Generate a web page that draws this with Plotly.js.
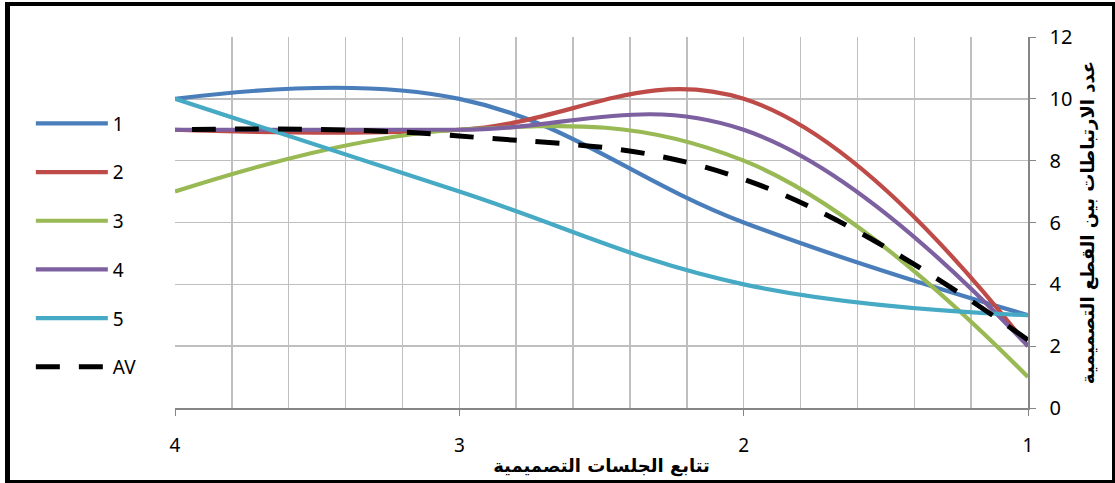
<!DOCTYPE html>
<html>
<head>
<meta charset="utf-8">
<script src="https://cdn.plot.ly/plotly-3.0.1.min.js"></script>
<style>
  html, body { margin: 0; padding: 0; background: #fff; }
  #chart { position: absolute; left: 0; top: 0; width: 1115px; height: 483px; }
  #frame { position: absolute; left: 5px; top: 2px; width: 1110px; height: 481px; box-sizing: border-box;
           border-style: solid; border-color: #000; border-width: 4px 3px 3px 5px; pointer-events: none; }
</style>
</head>
<body>
<div id="chart"></div>
<div id="frame"></div>
<script>
// Sessions (x axis, drawn reversed 4 -> 1)
const sessions = [1, 2, 3, 4];
const s1 = [3, 6, 10, 10];
const s2 = [2, 10, 9, 9];
const s3 = [1, 8, 9, 7];
const s4 = [2, 9, 9, 9];
const s5 = [3, 4, 7, 10];
const av = [2.2, 7.4, 8.8, 9];
const seriesNames = ['1', '2', '3', '4', '5', 'AV'];
const seriesColors = ['#4A7EBB', '#BE4B48', '#98B954', '#7D60A0', '#46AAC5', '#000000'];
const xTitle = 'تتابع الجلسات التصميمية';
const yTitle = 'عدد الارتباطات بين القطع التصميمية';

const allSeries = [s1, s2, s3, s4, s5, av];
const traces = allSeries.map((ys, i) => ({
  type: 'scatter',
  mode: 'lines',
  x: sessions,
  y: ys,
  name: seriesNames[i],
  legendgroup: 'g' + i,
  line: {
    color: seriesColors[i],
    width: i === 5 ? 5 : 4.2,
    shape: 'spline',
    smoothing: 1.15,
    dash: i === 5 ? '24px,19px' : 'solid'
  }
}));

const layout = {
  width: 1115,
  height: 483,
  margin: { l: 175, r: 87, t: 37, b: 75 },
  paper_bgcolor: '#ffffff',
  plot_bgcolor: '#ffffff',
  showlegend: true,
  legend: {
    x: -0.169, xanchor: 'left',
    y: 0.818, yanchor: 'top',
    font: { family: 'Noto Sans, sans-serif', size: 19, color: '#000' },
    itemwidth: 72,
    tracegroupgap: 21,
    traceorder: 'grouped',
    bgcolor: 'rgba(0,0,0,0)'
  },
  xaxis: {
    range: [4, 1],
    tickvals: sessions,
    ticktext: sessions.map(String),
    ticks: 'outside',
    ticklen: 6,
    tickcolor: '#868686',
    ticklabelstandoff: 14,
    showgrid: true,
    gridcolor: '#bfbfbf',
    gridwidth: 1.5,
    minor: { dtick: 0.2, tick0: 0, showgrid: true, gridcolor: '#bfbfbf', gridwidth: 1.5, ticks: '' },
    showline: true,
    linecolor: '#868686',
    linewidth: 1.5,
    zeroline: false,
    tickfont: { family: 'Noto Sans, sans-serif', size: 19, color: '#000' },
    title: { text: xTitle, font: { family: 'DejaVu Sans, sans-serif', size: 18, color: '#000', weight: 'bold' }, standoff: 2 }
  },
  yaxis: {
    range: [0, 12],
    dtick: 2,
    side: 'right',
    ticks: 'outside',
    ticklen: 6,
    tickcolor: '#868686',
    ticklabelstandoff: 10,
    showgrid: true,
    gridcolor: '#bfbfbf',
    gridwidth: 1.5,
    showline: true,
    linecolor: '#868686',
    linewidth: 1.5,
    zeroline: false,
    mirror: false,
    tickfont: { family: 'Noto Sans, sans-serif', size: 20, color: '#000' },
    title: { text: yTitle, font: { family: 'DejaVu Sans, sans-serif', size: 18, color: '#000', weight: 'bold' }, standoff: 10 }
  }
};

Plotly.newPlot('chart', traces, layout, { staticPlot: true, displayModeBar: false });
</script>
</body>
</html>
